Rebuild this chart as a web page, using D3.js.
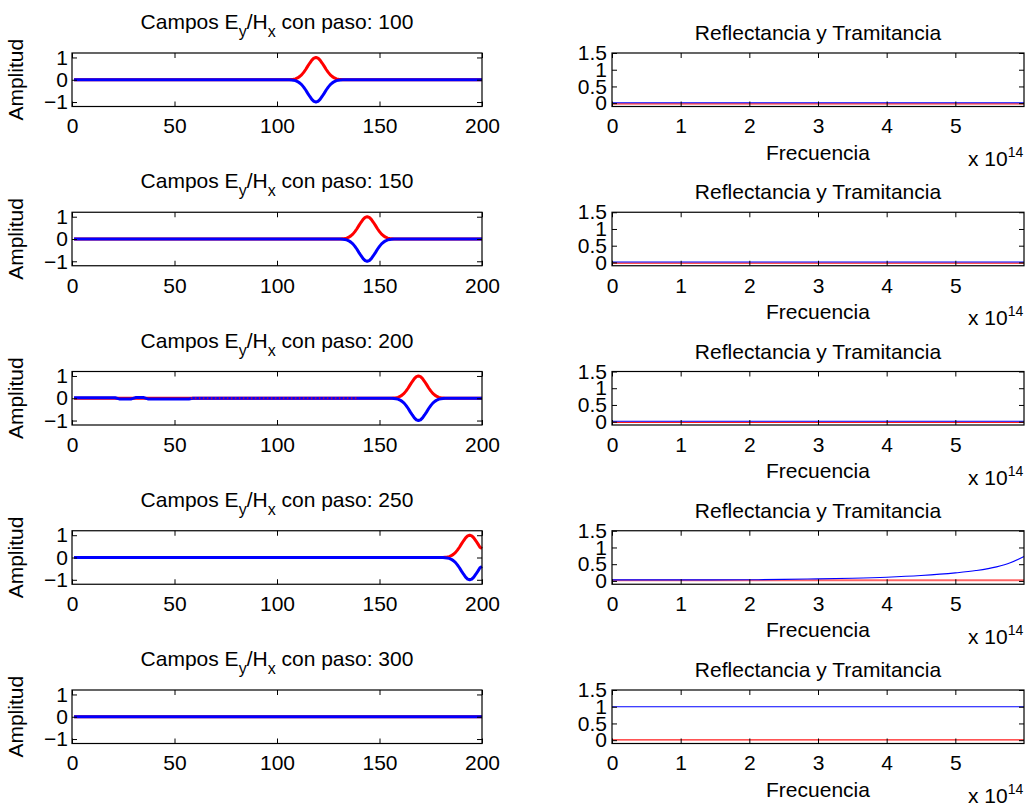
<!DOCTYPE html>
<html>
<head>
<meta charset="utf-8">
<script src="https://cdn.jsdelivr.net/npm/d3@7.9.0/dist/d3.min.js"></script>
<style>
  html, body { margin: 0; padding: 0; background: white; }
  svg { display: block; }
</style>
</head>
<body>
<div id="chart"></div>
<script>
// step numbers for each row
const pasos = [100, 150, 200, 250, 300];

// left panels: x position of first pulse sample, Ey / Hx pulse samples (one per cell)
const pulseStart = [107, 132, 157, 182, null];
const eyPulse = [
  [0.01, 0.02, 0.04, 0.08, 0.14, 0.22, 0.33, 0.46, 0.61, 0.75, 0.88, 0.97, 1.00, 0.97, 0.88, 0.75, 0.61, 0.46, 0.33, 0.22, 0.14, 0.08, 0.04, 0.02, 0.01],
  [0.01, 0.02, 0.04, 0.08, 0.14, 0.22, 0.33, 0.46, 0.61, 0.75, 0.88, 0.97, 1.00, 0.97, 0.88, 0.75, 0.61, 0.46, 0.33, 0.22, 0.14, 0.08, 0.04, 0.02, 0.01],
  [0.01, 0.02, 0.04, 0.08, 0.14, 0.22, 0.33, 0.46, 0.61, 0.75, 0.88, 0.97, 1.00, 0.97, 0.88, 0.75, 0.61, 0.46, 0.33, 0.22, 0.14, 0.08, 0.04, 0.02, 0.01],
  [0.01, 0.02, 0.04, 0.08, 0.14, 0.22, 0.33, 0.46, 0.61, 0.75, 0.88, 0.97, 1.00, 0.97, 0.88, 0.75, 0.61, 0.46, 0.40],
  []
];
const hxPulse = [
  [-0.01, -0.02, -0.04, -0.08, -0.14, -0.22, -0.33, -0.46, -0.61, -0.75, -0.88, -0.97, -1.00, -0.97, -0.88, -0.75, -0.61, -0.46, -0.33, -0.22, -0.14, -0.08, -0.04, -0.02, -0.01],
  [-0.01, -0.02, -0.04, -0.08, -0.14, -0.22, -0.33, -0.46, -0.61, -0.75, -0.88, -0.97, -1.00, -0.97, -0.88, -0.75, -0.61, -0.46, -0.33, -0.22, -0.14, -0.08, -0.04, -0.02, -0.01],
  [-0.01, -0.02, -0.04, -0.08, -0.14, -0.22, -0.33, -0.46, -0.61, -0.75, -0.88, -0.97, -1.00, -0.97, -0.88, -0.75, -0.61, -0.46, -0.33, -0.22, -0.14, -0.08, -0.04, -0.02, -0.01],
  [-0.01, -0.02, -0.04, -0.08, -0.14, -0.22, -0.33, -0.46, -0.61, -0.75, -0.88, -0.97, -1.00, -0.97, -0.88, -0.75, -0.61, -0.46, -0.40],
  []
];
// small leftover ripple ahead of the pulse at paso 200
const hxRipple200 = [[1, 0.02], [21, 0.02], [23, -0.03], [29, -0.03], [31, 0.03], [35, 0.03], [37, -0.03], [57, -0.03], [59, 0]];
const cellTicks = [0, 50, 100, 150, 200];
const ampTicks = [-1, 0, 1];

// right panels: reflectance (red) and transmittance (blue) vs frequency
const freqPts = [0, 1e14, 2e14, 2.5e14, 3e14, 3.5e14, 4e14, 4.5e14, 5e14, 5.3e14, 5.6e14, 5.8e14, 6e14];
const reflect = [
  [-0.02, -0.02, -0.02, -0.02, -0.02, -0.02, -0.02, -0.02, -0.02, -0.02, -0.02, -0.02, -0.02],
  [-0.02, -0.02, -0.02, -0.02, -0.02, -0.02, -0.02, -0.02, -0.02, -0.02, -0.02, -0.02, -0.02],
  [-0.02, -0.02, -0.02, -0.02, -0.02, -0.02, -0.02, -0.02, -0.02, -0.02, -0.02, -0.02, -0.02],
  [0.02, 0.02, 0.02, 0.02, 0.02, 0.02, 0.02, 0.02, 0.02, 0.02, 0.02, 0.02, 0.02],
  [0.01, 0.01, 0.01, 0.01, 0.01, 0.01, 0.01, 0.01, 0.01, 0.01, 0.01, 0.01, 0.01]
];
const transm = [
  [0.01, 0.01, 0.01, 0.01, 0.01, 0.01, 0.01, 0.01, 0.01, 0.01, 0.01, 0.01, 0.01],
  [0.01, 0.01, 0.01, 0.01, 0.01, 0.01, 0.01, 0.01, 0.01, 0.01, 0.01, 0.01, 0.01],
  [0.01, 0.01, 0.01, 0.01, 0.01, 0.01, 0.01, 0.01, 0.01, 0.01, 0.01, 0.01, 0.01],
  [0.03, 0.03, 0.035, 0.045, 0.06, 0.08, 0.11, 0.16, 0.24, 0.31, 0.42, 0.54, 0.73],
  [1.00, 1.00, 1.00, 1.00, 1.00, 1.00, 1.00, 1.00, 1.00, 1.00, 1.00, 1.00, 1.00]
];
const freqTicks = [0, 1e14, 2e14, 3e14, 4e14, 5e14];
const rtTicks = [0, 0.5, 1, 1.5];

const width = 1028;
const height = 805;
const font = "'Liberation Sans', Arial, Helvetica, sans-serif";
const fs = 21;
const subFs = 16;

const left = { x0: 72, x1: 482 };
const right = { x0: 612, x1: 1024 };
const top0 = 53;
const rowStep = 159.25;
const plotH = 53.5;

const svg = d3.select("#chart")
  .append("svg")
  .attr("width", width)
  .attr("height", height)
  .style("font-family", font);

svg.append("rect").attr("width", width).attr("height", height).attr("fill", "white");

function fieldSeries(i, pulse, base) {
  const pts = base ? base.slice() : [[1, 0]];
  const s = pulseStart[i];
  if (s == null || pulse.length === 0) {
    pts.push([200, 0]);
    return pts;
  }
  pts.push([s - 1, 0]);
  pulse.forEach((v, k) => pts.push([s + k, v]));
  const last = s + pulse.length - 1;
  if (last < 200) pts.push([last + 1, 0], [200, 0]);
  return pts;
}

function frameAxes(g, x, y, xTicks, yTicks, xFmt, yFmt, y0, h, yPad) {
  const tick = 5;
  g.append("g")
    .attr("transform", `translate(0,${y0 + h})`)
    .call(d3.axisBottom(x).tickValues(xTicks).tickFormat(xFmt).tickSizeInner(-tick).tickSizeOuter(0).tickPadding(12));
  g.append("g")
    .attr("transform", `translate(0,${y0})`)
    .call(d3.axisTop(x).tickValues(xTicks).tickFormat("").tickSizeInner(-tick).tickSizeOuter(0));
  g.append("g")
    .attr("transform", `translate(${x.range()[0]},0)`)
    .call(d3.axisLeft(y).tickValues(yTicks).tickFormat(yFmt).tickSizeInner(-tick).tickSizeOuter(0).tickPadding(yPad));
  g.append("g")
    .attr("transform", `translate(${x.range()[1]},0)`)
    .call(d3.axisRight(y).tickValues(yTicks).tickFormat("").tickSizeInner(-tick).tickSizeOuter(0));
  g.selectAll(".domain").remove();
  g.selectAll(".tick line").attr("stroke", "#000").attr("stroke-width", 1);
  g.selectAll(".tick text")
    .attr("font-family", font)
    .attr("font-size", fs)
    .attr("fill", "#000");
  g.append("rect")
    .attr("x", x.range()[0])
    .attr("y", y0)
    .attr("width", x.range()[1] - x.range()[0])
    .attr("height", h)
    .attr("fill", "none")
    .attr("stroke", "#000")
    .attr("stroke-width", 1.2);
}

function renderFieldPanel(i) {
  const y0 = top0 + i * rowStep;
  const g = svg.append("g");
  const x = d3.scaleLinear().domain([0, 200]).range([left.x0, left.x1]);
  const y = d3.scaleLinear().domain([-1.2, 1.2]).range([y0 + plotH, y0]);

  const line = d3.line().x((d) => x(d[0])).y((d) => y(d[1]));

  const ey = fieldSeries(i, eyPulse[i], null);
  const hx = fieldSeries(i, hxPulse[i], i === 2 ? hxRipple200 : null);

  g.append("path").datum(ey)
    .attr("d", line).attr("fill", "none")
    .attr("stroke", "#ff0000").attr("stroke-width", 3).attr("stroke-linejoin", "round");
  g.append("path").datum(hx)
    .attr("d", line).attr("fill", "none")
    .attr("stroke", "#0000ff").attr("stroke-width", 3).attr("stroke-linejoin", "round");

  if (i === 2) {
    // interleaved red/blue ripple along the baseline
    g.append("path").datum([[58, 0], [140, 0]])
      .attr("d", line).attr("fill", "none")
      .attr("stroke", "#ff0000").attr("stroke-width", 2)
      .attr("stroke-dasharray", "1.5,2.5").attr("opacity", 0.7);
  }

  frameAxes(g, x, y, cellTicks, ampTicks, (d) => String(d), (d) => (d < 0 ? "\u2212" + Math.abs(d) : String(d)), y0, plotH, 4);

  const title = g.append("text")
    .attr("x", (left.x0 + left.x1) / 2)
    .attr("y", y0 - 24)
    .attr("text-anchor", "middle")
    .attr("font-size", fs);
  title.append("tspan").text("Campos E");
  title.append("tspan").attr("dy", 8).attr("font-size", subFs).text("y");
  title.append("tspan").attr("dy", -8).text("/H");
  title.append("tspan").attr("dy", 8).attr("font-size", subFs).text("x");
  title.append("tspan").attr("dy", -8).text(" con paso: " + pasos[i]);

  g.append("text")
    .attr("transform", `translate(23,${y0 + plotH / 2}) rotate(-90)`)
    .attr("text-anchor", "middle")
    .attr("font-size", fs)
    .text("Amplitud");
}

function renderSpectrumPanel(i) {
  const y0 = top0 + i * rowStep;
  const g = svg.append("g");
  const x = d3.scaleLinear().domain([0, 6e14]).range([right.x0, right.x1]);
  const y = d3.scaleLinear().domain([-0.1, 1.5]).range([y0 + plotH, y0]);

  const line = d3.line().x((d) => x(d[0])).y((d) => y(d[1])).curve(d3.curveMonotoneX);

  g.append("path").datum(freqPts.map((f, k) => [f, reflect[i][k]]))
    .attr("d", line).attr("fill", "none")
    .attr("stroke", "#ff0000").attr("stroke-width", i === 3 ? 2 : 1.2)
    .attr("opacity", i === 3 ? 0.6 : 0.9);
  g.append("path").datum(freqPts.map((f, k) => [f, transm[i][k]]))
    .attr("d", line).attr("fill", "none")
    .attr("stroke", "#0000ff").attr("stroke-width", 1.1);

  frameAxes(g, x, y, freqTicks, rtTicks, (d) => String(d / 1e14), (d) => String(d), y0, plotH, 5);

  g.append("text")
    .attr("x", (right.x0 + right.x1) / 2)
    .attr("y", y0 - 13)
    .attr("text-anchor", "middle")
    .attr("font-size", fs)
    .text("Reflectancia y Tramitancia");

  g.append("text")
    .attr("x", (right.x0 + right.x1) / 2)
    .attr("y", y0 + plotH + 53)
    .attr("text-anchor", "middle")
    .attr("font-size", fs)
    .text("Frecuencia");

  const mult = g.append("text")
    .attr("x", 968)
    .attr("y", y0 + plotH + 59.5)
    .attr("text-anchor", "start")
    .attr("font-size", fs);
  mult.append("tspan").text("x 10");
  mult.append("tspan").attr("dy", -9).attr("font-size", 14).text("14");
}

pasos.forEach((p, i) => {
  renderFieldPanel(i);
  renderSpectrumPanel(i);
});
</script>
</body>
</html>
